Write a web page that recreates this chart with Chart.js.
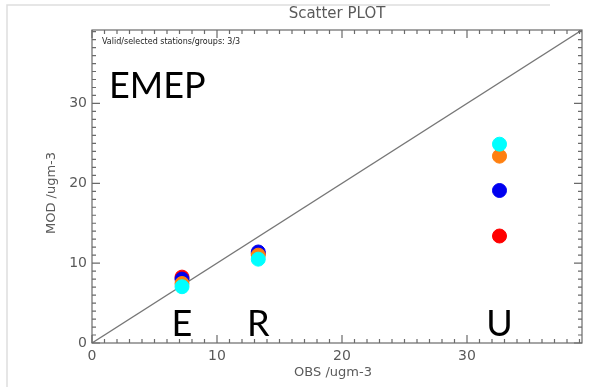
<!DOCTYPE html>
<html>
<head>
<meta charset="utf-8">
<script src="https://cdn.jsdelivr.net/npm/chart.js@4"></script>
<style>
	html, body { margin: 0; padding: 0; background: #fff; }
	#wrap { width: 600px; height: 387px; position: relative; }
</style>
</head>
<body>
<div id="wrap"><canvas id="scatter"></canvas></div>
<script>
const groups = ['E', 'R', 'U'];
const obsValues = [7.2, 13.3, 32.6];
const redValues = [8.25, 11.2, 13.4];
const blueValues = [8.0, 11.4, 19.1];
const orangeValues = [7.45, 11.0, 23.4];
const cyanValues = [7.05, 10.5, 24.9];
const xTicks = [0, 10, 20, 30];
const yTicks = [0, 10, 20, 30];
const axisMax = 39.2;

function toPoints(values) {
	return values.map((v, i) => ({ x: obsValues[i], y: v }));
}

// frame, inward ticks, labels and annotations drawn on top of the scales
const idlFrame = {
	id: 'idlFrame',
	beforeDraw(chart) {
		const ctx = chart.ctx;
		ctx.save();
		ctx.strokeStyle = '#dedede';
		ctx.lineWidth = 1.5;
		ctx.beginPath();
		ctx.moveTo(550, 5);
		ctx.lineTo(7, 5);
		ctx.lineTo(7, 387);
		ctx.stroke();
		ctx.restore();
	},
	afterDraw(chart) {
		const ctx = chart.ctx;
		const a = chart.chartArea;
		const xs = chart.scales.x;
		const ys = chart.scales.y;
		ctx.save();
		ctx.strokeStyle = '#6a6a6a';
		ctx.lineWidth = 1.2;
		ctx.strokeRect(a.left, a.top, a.right - a.left, a.bottom - a.top);

		ctx.beginPath();
		for (let v = 0; v <= axisMax; v++) {
			const len = v % 10 === 0 ? 8 : 4;
			const px = xs.getPixelForValue(v);
			ctx.moveTo(px, a.bottom); ctx.lineTo(px, a.bottom - len);
			ctx.moveTo(px, a.top); ctx.lineTo(px, a.top + len);
			const py = ys.getPixelForValue(v);
			ctx.moveTo(a.left, py); ctx.lineTo(a.left + len, py);
			ctx.moveTo(a.right, py); ctx.lineTo(a.right - len, py);
		}
		ctx.stroke();

		ctx.fillStyle = '#5a5a5a';
		ctx.font = '14px "DejaVu Sans"';
		ctx.textAlign = 'center';
		ctx.textBaseline = 'middle';
		xTicks.forEach(t => ctx.fillText(String(t), xs.getPixelForValue(t), a.bottom + 13));
		ctx.textAlign = 'right';
		yTicks.forEach(t => ctx.fillText(String(t), a.left - 5, ys.getPixelForValue(t)));

		ctx.font = '13px "DejaVu Sans"';
		ctx.textAlign = 'center';
		ctx.fillText('OBS /ugm-3', (a.left + a.right) / 2 - 4, 373);
		ctx.save();
		ctx.translate(52, 193);
		ctx.rotate(-Math.PI / 2);
		ctx.fillText('MOD /ugm-3', 0, 0);
		ctx.restore();

		ctx.font = '15px "DejaVu Sans"';
		ctx.fillText('Scatter PLOT', (a.left + a.right) / 2, 14);

		ctx.fillStyle = '#222';
		ctx.font = '8px "DejaVu Sans"';
		ctx.textAlign = 'left';
		ctx.fillText('Valid/selected stations/groups: 3/3', a.left + 10, a.top + 12);

		ctx.fillStyle = '#000';
		ctx.font = '36px Lato';
		ctx.textBaseline = 'alphabetic';
		ctx.fillText('EMEP', 109, 98);
		ctx.textAlign = 'center';
		groups.forEach((g, i) => ctx.fillText(g, xs.getPixelForValue(obsValues[i]), 336));
		ctx.restore();
	}
};

function dotSet(label, values, color) {
	return {
		type: 'scatter',
		label: label,
		data: toPoints(values),
		backgroundColor: color,
		borderColor: color,
		pointRadius: 7,
		pointHoverRadius: 7
	};
}

new Chart(document.getElementById('scatter'), {
	type: 'scatter',
	data: {
		datasets: [
			{
				type: 'line',
				label: '1:1',
				data: [{ x: 0, y: 0 }, { x: axisMax, y: axisMax }],
				borderColor: '#777',
				borderWidth: 1.3,
				pointRadius: 0,
				order: 5
			},
			Object.assign(dotSet('red', redValues, '#ff0000'), { order: 4 }),
			Object.assign(dotSet('blue', blueValues, '#0000f0'), { order: 3 }),
			Object.assign(dotSet('orange', orangeValues, '#ff8010'), { order: 2 }),
			Object.assign(dotSet('cyan', cyanValues, '#00ffff'), { order: 1 })
		]
	},
	options: {
		responsive: true,
		maintainAspectRatio: false,
		animation: false,
		layout: { padding: { left: 92, right: 18, top: 30, bottom: 44 } },
		plugins: {
			legend: { display: false },
			tooltip: { enabled: false }
		},
		scales: {
			x: { type: 'linear', min: 0, max: axisMax, display: false },
			y: { type: 'linear', min: 0, max: axisMax, display: false }
		}
	},
	plugins: [idlFrame]
});
</script>
</body>
</html>
